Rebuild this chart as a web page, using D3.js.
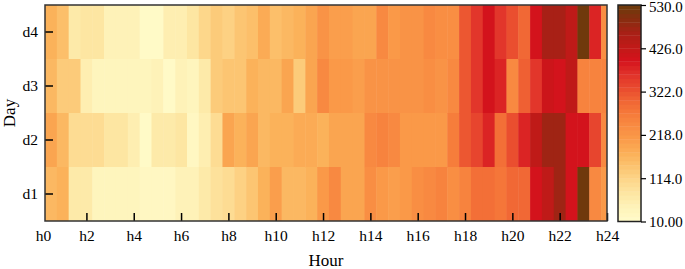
<!DOCTYPE html>
<html>
<head>
<meta charset="utf-8">
<script src="https://cdn.jsdelivr.net/npm/d3@7"></script>
<style>
  body { margin: 0; background: #fff; }
  text { font-family: "Liberation Serif", "Times New Roman", serif; fill: #000; }
</style>
</head>
<body>
<div id="chart"></div>
<script>
// Data: half-hour columns, one row per day
var hours = [0.5, 1, 1.5, 2, 2.5, 3, 3.5, 4, 4.5, 5, 5.5, 6, 6.5, 7, 7.5, 8,
             8.5, 9, 9.5, 10, 10.5, 11, 11.5, 12, 12.5, 13, 13.5, 14, 14.5, 15, 15.5, 16,
             16.5, 17, 17.5, 18, 18.5, 19, 19.5, 20, 20.5, 21, 21.5, 22, 22.5, 23, 23.5, 24];
var days = ["d4", "d3", "d2", "d1"];

var d4 = [170, 150, 70, 75, 75, 50, 50, 50, 18, 20, 55, 55, 80, 110, 125, 120,
          135, 150, 185, 155, 165, 175, 190, 225, 205, 205, 195, 195, 240, 210, 225, 225,
          245, 235, 235, 320, 355, 405, 355, 330, 295, 395, 460, 460, 435, 525, 375, 235];
var d3v = [160, 130, 130, 55, 35, 35, 35, 40, 40, 50, 15, 50, 35, 70, 125, 135,
           140, 170, 160, 165, 195, 130, 195, 240, 215, 215, 205, 225, 225, 225, 225, 225,
           235, 225, 245, 320, 355, 405, 375, 245, 310, 355, 410, 400, 430, 255, 255, 255];
var d2 = [195, 165, 95, 100, 100, 80, 80, 60, 20, 70, 70, 75, 30, 55, 100, 195,
          175, 195, 160, 170, 170, 185, 185, 175, 195, 195, 190, 240, 250, 240, 210, 210,
          215, 215, 265, 320, 340, 375, 290, 330, 375, 435, 475, 475, 400, 400, 340, 240];
var d1 = [160, 175, 70, 70, 40, 40, 40, 35, 22, 22, 22, 50, 45, 65, 85, 100,
          120, 140, 170, 200, 165, 165, 170, 210, 240, 195, 195, 230, 210, 200, 210, 230,
          240, 255, 235, 255, 290, 290, 270, 300, 300, 395, 430, 475, 400, 520, 240, 210];

var xTicks = [0, 2, 4, 6, 8, 10, 12, 14, 16, 18, 20, 22, 24];
var colorTicks = [10, 114, 218, 322, 426, 530];
var colorStops = [14, 46, 78, 110, 142, 174, 206, 238, 270, 302, 334, 367, 398, 430, 463, 494, 526];
var colorHex = ["#fffac8", "#fef2b8", "#fde6a2", "#fdd68a", "#fcc470", "#fbb058", "#fa9c4a", "#f98c42",
                "#f67a3a", "#f06434", "#e8482e", "#e0302a", "#d4121c", "#c01a18", "#a82016", "#8a2c10", "#6e3a0c"];

var rows = { d4: d4, d3: d3v, d2: d2, d1: d1 };
var cells = [];
days.forEach(function(day) {
  rows[day].forEach(function(v, i) {
    cells.push({ day: day, hour: hours[i], value: v });
  });
});

var width = 685, height = 269;
var plotLeft = 45, plotRight = 607, plotTop = 5, plotBottom = 221;
var vmin = 10, vmax = 530, nLevels = 50;

var svg = d3.select("#chart").append("svg")
    .attr("width", width)
    .attr("height", height);

var x = d3.scaleLinear().domain([0.25, 24]).range([plotLeft, plotRight]);
var y = d3.scaleBand().domain(days).range([plotTop, plotBottom]);

var colorRamp = d3.scaleLinear().domain(colorStops).range(colorHex).clamp(true);
var step = (vmax - vmin) / nLevels;
function color(v) {
  var lvl = Math.min(nLevels - 1, Math.floor((v - vmin) / step));
  return colorRamp(vmin + (lvl + 0.5) * step);
}

svg.append("clipPath").attr("id", "plot-clip")
  .append("rect")
    .attr("x", plotLeft).attr("y", plotTop)
    .attr("width", plotRight - plotLeft).attr("height", plotBottom - plotTop);

svg.append("g").attr("clip-path", "url(#plot-clip)")
  .selectAll("rect")
  .data(cells)
  .enter().append("rect")
    .attr("x", function(d) { return x(d.hour - 0.25); })
    .attr("y", function(d) { return y(d.day); })
    .attr("width", function(d) { return x(d.hour + 0.25) - x(d.hour - 0.25) + 0.5; })
    .attr("height", y.bandwidth() + 0.5)
    .attr("fill", function(d) { return color(d.value); });

// x axis, ticks pointing inward
var xAxis = svg.append("g")
    .attr("transform", "translate(0," + plotBottom + ")")
    .call(d3.axisBottom(x).tickValues(xTicks).tickSize(-8).tickPadding(8.5)
      .tickFormat(function(d) { return "h" + d; }));
xAxis.select(".domain").remove();
xAxis.selectAll(".tick line")
    .attr("stroke", "#000").attr("stroke-width", 1.5)
    .filter(function(d) { return x(d) < plotLeft + 1; }).remove();
xAxis.selectAll("text").style("font-size", "15.5px")
    .attr("dx", function(d) { return d === 0 ? 4 : 0; });

var yAxis = svg.append("g")
    .attr("transform", "translate(" + plotLeft + ",0)")
    .call(d3.axisLeft(y).tickSize(-8).tickPadding(7));
yAxis.select(".domain").remove();
yAxis.selectAll(".tick line").attr("stroke", "#000").attr("stroke-width", 1.5);
yAxis.selectAll("text").style("font-size", "15.5px");

svg.append("rect")
    .attr("x", plotLeft).attr("y", plotTop)
    .attr("width", plotRight - plotLeft).attr("height", plotBottom - plotTop)
    .attr("fill", "none").attr("stroke", "#333").attr("stroke-width", 1.5);

svg.append("text")
    .attr("x", (plotLeft + plotRight) / 2).attr("y", 266)
    .attr("text-anchor", "middle")
    .style("font-size", "17px")
    .text("Hour");

svg.append("text")
    .attr("transform", "translate(15," + (plotTop + plotBottom) / 2 + ") rotate(-90)")
    .attr("text-anchor", "middle")
    .style("font-size", "17px")
    .text("Day");

// colorbar
var cbLeft = 618, cbRight = 641, cbTop = 5, cbBottom = 221.5;
var cbScale = d3.scaleLinear().domain([vmin, vmax]).range([cbBottom, cbTop]);
var levels = d3.range(nLevels);

svg.append("g").selectAll("rect")
  .data(levels)
  .enter().append("rect")
    .attr("x", cbLeft)
    .attr("y", function(i) { return cbScale(vmin + (i + 1) * step); })
    .attr("width", cbRight - cbLeft)
    .attr("height", cbScale(vmin) - cbScale(vmin + step) + 0.4)
    .attr("fill", function(i) { return colorRamp(vmin + (i + 0.5) * step); });

svg.append("rect")
    .attr("x", cbLeft).attr("y", cbTop)
    .attr("width", cbRight - cbLeft).attr("height", cbBottom - cbTop)
    .attr("fill", "none").attr("stroke", "#222").attr("stroke-width", 1.5);

var cbAxis = svg.append("g")
    .attr("transform", "translate(" + cbRight + ",0)")
    .call(d3.axisRight(cbScale).tickValues(colorTicks).tickSize(5).tickPadding(3)
      .tickFormat(d3.format(".4r")));
cbAxis.select(".domain").remove();
cbAxis.selectAll(".tick line").attr("stroke", "#000").attr("stroke-width", 1.2);
cbAxis.selectAll("text").style("font-size", "15px")
    .attr("y", function(d) { return d === vmax ? 1.5 : 0; });
</script>
</body>
</html>
